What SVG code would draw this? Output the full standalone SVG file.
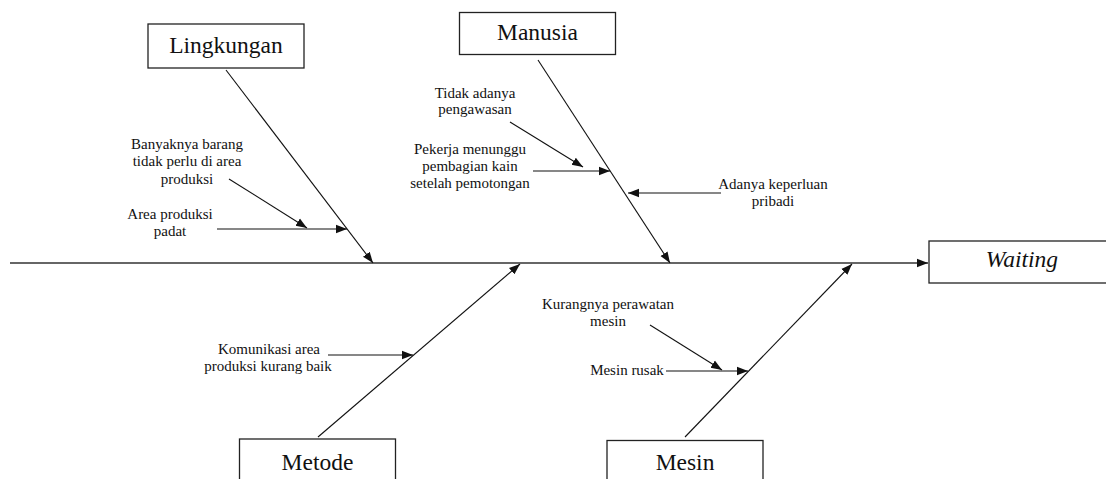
<svg xmlns="http://www.w3.org/2000/svg" width="1106" height="479" viewBox="0 0 1106 479">
<style>
.box{fill:#fff;stroke:#222;stroke-width:1.3}
.big{font-family:"Liberation Serif","Times New Roman",serif;font-size:23.5px;fill:#111;text-anchor:middle}
.sm{font-family:"Liberation Serif","Times New Roman",serif;font-size:15px;fill:#111;text-anchor:middle}
.ln{stroke:#111;stroke-width:1.1;fill:none;marker-end:url(#ah)}
.main{stroke:#333;stroke-width:1.6;fill:none;marker-end:url(#ah)}
</style>
<defs>
<marker id="ah" markerUnits="userSpaceOnUse" markerWidth="12" markerHeight="10" viewBox="0 0 12 10" refX="11" refY="5" orient="auto">
<path d="M0,0.8 L11,5 L0,9.2 Z" fill="#111"/>
</marker>
</defs>
<rect width="1106" height="479" fill="#fff"/>
<g id="connectors">
<line class="main" x1="10" y1="263" x2="928" y2="263"/>
<line class="ln" x1="226" y1="70" x2="373" y2="263"/>
<line class="ln" x1="538" y1="60" x2="670" y2="263"/>
<line class="ln" x1="318" y1="437" x2="520" y2="264"/>
<line class="ln" x1="685" y1="437" x2="852" y2="264"/>
<line class="ln" x1="229" y1="179" x2="307" y2="228"/>
<line class="ln" x1="217" y1="229" x2="347" y2="229"/>
<line class="ln" x1="510" y1="122" x2="583" y2="167"/>
<line class="ln" x1="533" y1="171" x2="610" y2="171"/>
<line class="ln" x1="721" y1="193" x2="628" y2="193"/>
<line class="ln" x1="328" y1="355" x2="413" y2="355"/>
<line class="ln" x1="650" y1="325" x2="722" y2="370"/>
<line class="ln" x1="666" y1="371" x2="748" y2="371"/>
</g>
<g id="lingkungan">
<rect class="box" x="148" y="24" width="156" height="44"/>
<text class="big" x="226" y="53">Lingkungan</text>
</g>
<g id="manusia">
<rect class="box" x="459.5" y="12.5" width="156" height="42"/>
<text class="big" x="537.5" y="40">Manusia</text>
</g>
<g id="metode">
<rect class="box" x="239.5" y="439" width="156" height="50"/>
<text class="big" x="317.5" y="469.5">Metode</text>
</g>
<g id="mesin">
<rect class="box" x="607" y="440.5" width="156" height="50"/>
<text class="big" x="685" y="469.5">Mesin</text>
</g>
<g id="waiting">
<rect class="box" x="929" y="241" width="180" height="42"/>
<text class="big" x="1022" y="267" font-style="italic">Waiting</text>
</g>
<g id="cause-banyaknya">
<text class="sm" x="187" y="149">Banyaknya barang</text>
<text class="sm" x="187" y="166">tidak perlu di area</text>
<text class="sm" x="187" y="184">produksi</text>
</g>
<g id="cause-area-padat">
<text class="sm" x="170" y="219">Area produksi</text>
<text class="sm" x="170" y="236">padat</text>
</g>
<g id="cause-pengawasan">
<text class="sm" x="475" y="98">Tidak adanya</text>
<text class="sm" x="475" y="114">pengawasan</text>
</g>
<g id="cause-pekerja">
<text class="sm" x="470" y="154">Pekerja menunggu</text>
<text class="sm" x="470" y="171">pembagian kain</text>
<text class="sm" x="470" y="188">setelah pemotongan</text>
</g>
<g id="cause-keperluan">
<text class="sm" x="773" y="189">Adanya keperluan</text>
<text class="sm" x="773" y="206">pribadi</text>
</g>
<g id="cause-komunikasi">
<text class="sm" x="269" y="354">Komunikasi area</text>
<text class="sm" x="268" y="371">produksi kurang baik</text>
</g>
<g id="cause-perawatan">
<text class="sm" x="608" y="309">Kurangnya perawatan</text>
<text class="sm" x="608" y="326">mesin</text>
</g>
<g id="cause-rusak">
<text class="sm" x="627" y="375">Mesin rusak</text>
</g>
</svg>
